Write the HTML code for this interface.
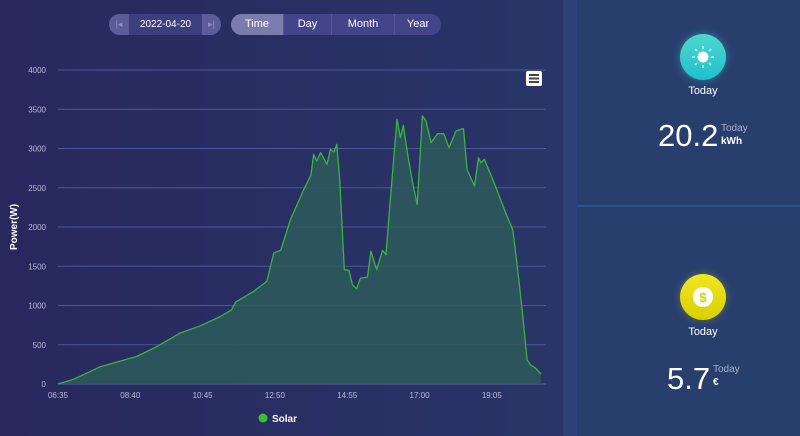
<!DOCTYPE html>
<html><head><meta charset="utf-8"><style>
body{margin:0;width:800px;height:436px;overflow:hidden;font-family:"Liberation Sans",sans-serif;background:linear-gradient(90deg,#28285e 0%,#2a3a6c 100%);position:relative}
.abs{position:absolute}
.pill{position:absolute;top:14px;height:21px;border-radius:11px;overflow:hidden;display:flex;font-size:11px;color:#fff;line-height:21px}
.tab{text-align:center;background:#43448a;border-left:1px solid #55569a}
</style></head><body>
<div class="pill" style="left:109px;width:112px;background:#5c5d98">
 <div style="width:20px;text-align:center;color:#8f90c0;font-size:9px">|◂</div>
 <div style="width:73px;text-align:center;background:#3d3e7c;font-size:10px">2022-04-20</div>
 <div style="width:19px;text-align:center;color:#8f90c0;font-size:9px">▸|</div>
</div>
<div class="pill" style="left:231px;width:210px;background:#43448a">
 <div class="tab" style="width:52px;background:#7b7cae;border:none">Time</div>
 <div class="tab" style="width:47px">Day</div>
 <div class="tab" style="width:62px">Month</div>
 <div class="tab" style="flex:1">Year</div>
</div>
<svg class="abs" style="left:0;top:0" width="563" height="436" id="chart">
 <g id="grid"></g><g id="series"></g><g id="xlabels"></g>
 <text x="17" y="227" transform="rotate(-90 17 227)" text-anchor="middle" fill="#fff" font-size="10" font-weight="bold">Power(W)</text>
 <g><rect x="526" y="71" width="16" height="15" rx="2" fill="#fff"/><rect x="529" y="74" width="10" height="2" fill="#444"/><rect x="529" y="77.5" width="10" height="2" fill="#444"/><rect x="529" y="81" width="10" height="2" fill="#444"/></g>
 <g><circle cx="263" cy="418" r="4.5" fill="#36c236"/><text x="272" y="422" fill="#fff" font-size="10" font-weight="bold">Solar</text></g>
</svg>
<div class="abs" style="left:563px;top:0;width:14px;height:436px;background:#2d4179"></div>
<div class="abs" style="left:577px;top:0;width:223px;height:205px;background:#283f6e">
 <div class="abs" style="left:103px;top:34px;width:46px;height:46px;border-radius:50%;background:linear-gradient(#4fd6d2,#1fc0c8);box-shadow:0 0 8px rgba(80,220,220,.4)">
  <svg width="46" height="46"><g stroke="#d8f8f8" stroke-width="1.5"><line x1="23" y1="12" x2="23" y2="15"/><line x1="23" y1="31" x2="23" y2="34"/><line x1="12" y1="23" x2="15" y2="23"/><line x1="31" y1="23" x2="34" y2="23"/><line x1="15" y1="15" x2="17" y2="17"/><line x1="29" y1="29" x2="31" y2="31"/><line x1="31" y1="15" x2="29" y2="17"/><line x1="15" y1="31" x2="17" y2="29"/></g><circle cx="23" cy="23" r="5.5" fill="#fff"/></svg>
 </div>
 <div class="abs" style="left:0;width:252px;top:85px;text-align:center;color:#fff;font-size:11px">Today</div>
 <div class="abs" style="left:81px;top:118px;color:#fff;font-size:31px">20.2</div>
 <div class="abs" style="left:144px;top:123px;color:#a8b0d0;font-size:10px">Today</div>
 <div class="abs" style="left:144px;top:136px;color:#fff;font-size:10px;font-weight:bold">kWh</div>
</div>
<div class="abs" style="left:577px;top:205px;width:223px;height:2px;background:#30508a"></div>
<div class="abs" style="left:577px;top:207px;width:223px;height:229px;background:#283f6e">
 <div class="abs" style="left:103px;top:67px;width:46px;height:46px;border-radius:50%;background:linear-gradient(#f0e820,#d8d000);box-shadow:0 0 8px rgba(240,230,30,.3)">
  <svg width="46" height="46"><circle cx="23" cy="23" r="10" fill="#fff"/><text x="23" y="28" text-anchor="middle" fill="#d8cc00" font-size="13" font-weight="bold">$</text></svg>
 </div>
 <div class="abs" style="left:0;width:252px;top:119px;text-align:center;color:#fff;font-size:11px">Today</div>
 <div class="abs" style="left:90px;top:154px;color:#fff;font-size:31px">5.7</div>
 <div class="abs" style="left:136px;top:157px;color:#a8b0d0;font-size:10px">Today</div>
 <div class="abs" style="left:136px;top:170px;color:#fff;font-size:10px;font-weight:bold">€</div>
</div>
<script>
const minutes=[0,27,73,136,171,211,246,281,300,307,338,361,373,385,402,425,437,442,447,454,465,471,477,482,487,495,503,509,516,523,535,541,551,561,567,575,586,592,597,604,613,621,630,636,645,656,667,676,688,701,707,720,727,731,737,754,774,786,794,803,811,817,826,835];
const power=[0,60,221,350,477,648,741,860,945,1043,1180,1307,1670,1703,2095,2478,2657,2925,2840,2946,2797,2989,2955,3053,2606,1456,1447,1264,1214,1349,1362,1690,1456,1703,1648,2393,3372,3138,3295,2946,2563,2286,3415,3351,3074,3189,3189,3010,3224,3253,2734,2521,2882,2818,2861,2563,2180,1967,1499,903,306,242,200,128];
const yTicks=[0,500,1000,1500,2000,2500,3000,3500,4000];
const xTickMinutes=[0,125,250,375,500,625,750];
const xTickLabels=["06:35","08:40","10:45","12:50","14:55","17:00","19:05"];
const X0=58,X1=541,Y0=384,Y1=70,XMAX=835,YMAX=4000;
const xs=m=>X0+(X1-X0)*m/XMAX, ys=v=>Y0-(Y0-Y1)*v/YMAX;
const NS="http://www.w3.org/2000/svg";
function mk(t,a,p){const e=document.createElementNS(NS,t);for(const k in a)e.setAttribute(k,a[k]);p.appendChild(e);return e;}
const grid=document.getElementById('grid');
yTicks.forEach(v=>{
 const l=mk('line',{x1:58,x2:546,y1:ys(v),y2:ys(v),stroke:v?'#4d5796':'#5a64a0','stroke-width':1},grid);
 
 
 const t=mk('text',{x:46,y:ys(v)+3,'text-anchor':'end',fill:'#b8bcd8','font-size':8},grid);t.textContent=v;
 
 
});
const xl=document.getElementById('xlabels');
xTickMinutes.forEach((m,i)=>{
 const t=mk('text',{x:xs(m),y:398,'text-anchor':'middle',fill:'#b8bcd8','font-size':8},xl);t.textContent=xTickLabels[i];
 
 
});
const pts=minutes.map((m,i)=>xs(m).toFixed(1)+','+ys(power[i]).toFixed(1));
const s=document.getElementById('series');
const a=mk('path',{d:'M'+xs(minutes[0])+','+Y0+' L'+pts.join(' L')+' L'+xs(minutes[minutes.length-1])+','+Y0+'Z',fill:'#2b5a5c','fill-opacity':0.85},s);


const ln=mk('path',{d:'M'+pts.join(' L'),fill:'none',stroke:'#3cb43c','stroke-width':1.3,'stroke-linejoin':'round'},s);


</script>
</body></html>
